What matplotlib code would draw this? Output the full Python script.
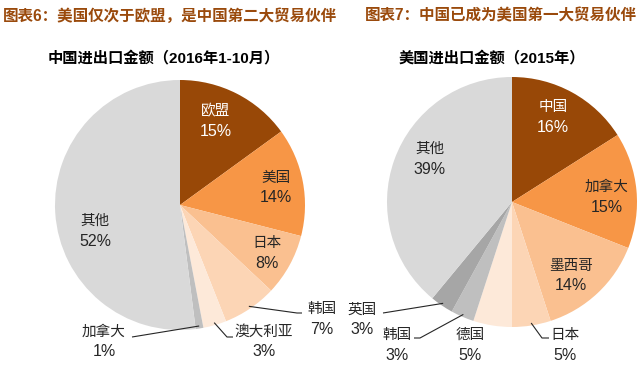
import matplotlib.pyplot as plt
import numpy as np

plt.rcParams['font.family'] = ['Liberation Sans', 'Noto Sans CJK SC', 'DejaVu Sans']

# China imports/exports 2016 Jan-Oct
cn_labels = ["欧盟", "美国", "日本", "韩国", "澳大利亚", "加拿大", "其他"]
cn_values = [15, 14, 8, 7, 3, 1, 52]
cn_colors = ["#984807", "#F79646", "#FAC090", "#FCD5B5", "#FDE9D9", "#BFBFBF", "#D9D9D9"]

# US imports/exports 2015
us_labels = ["中国", "加拿大", "墨西哥", "日本", "德国", "韩国", "英国", "其他"]
us_values = [16, 15, 14, 5, 5, 3, 3, 39]
us_colors = ["#984807", "#F79646", "#FAC090", "#FCD5B5", "#FDE9D9", "#BFBFBF", "#A6A6A6", "#D9D9D9"]

W, H = 640, 365
fig = plt.figure(figsize=(6.4, 3.65), dpi=100)
ax = fig.add_axes([0, 0, 1, 1])

def py(y):
    # pixel y (from top) -> data y
    return H - y

title_color = "#9A4A0C"
fig.text(3 / W, 1 - 16 / H, "图表6：美国仅次于欧盟，是中国第二大贸易伙伴", fontsize=11.2,
         fontweight='bold', color=title_color, va='center', ha='left')
fig.text(365 / W, 1 - 16 / H, "图表7：中国已成为美国第一大贸易伙伴", fontsize=11.2,
         fontweight='bold', color=title_color, va='center', ha='left')
ax.text(164, py(58), "中国进出口金额（2016年1-10月）", fontsize=11, fontweight='bold',
        ha='center', va='center', color='black')
ax.text(492, py(58), "美国进出口金额（2015年）", fontsize=11, fontweight='bold',
        ha='center', va='center', color='black')

def draw_pie(center, radius, values, colors):
    wedges, _ = ax.pie(values, colors=colors, startangle=90, counterclock=False,
                       center=(center[0], py(center[1])), radius=radius,
                       wedgeprops=dict(linewidth=0), frame=True)
    return wedges

cn_wedges = draw_pie((180, 205), 125, cn_values, cn_colors)
us_wedges = draw_pie((512, 202), 125, us_values, us_colors)
ax.set_xlim(0, W)
ax.set_ylim(0, H)
ax.set_aspect('equal')
ax.axis('off')

def label(x, y, name, pct, color='#262626'):
    ax.text(x, py(y), name, fontsize=10.5, ha='center', va='center', color=color)
    ax.text(x, py(y + 20), f"{pct}%", fontsize=11.5, ha='center', va='center', color=color)

def edge_point(wedge, frac=1.0):
    ang = np.deg2rad((wedge.theta1 + wedge.theta2) / 2)
    cx, cy = wedge.center
    r = wedge.r * frac
    return cx + r * np.cos(ang), cy + r * np.sin(ang)

def leader(wedge, pts):
    x0, y0 = edge_point(wedge, 0.98)
    xs = [x0] + [p[0] for p in pts]
    ys = [y0] + [py(p[1]) for p in pts]
    ax.plot(xs, ys, color='#262626', lw=0.8, solid_capstyle='butt')

# left pie labels
cn_pos = {"欧盟": (216, 111), "美国": (276, 178), "日本": (267, 243), "其他": (95, 221),
          "韩国": (322, 309), "澳大利亚": (264, 332), "加拿大": (104, 332)}
for name, val in zip(cn_labels, cn_values):
    x, y = cn_pos[name]
    label(x, y, name, val, color='white' if name == "欧盟" else '#262626')
leader(cn_wedges[3], [(297, 313), (302, 313)])
leader(cn_wedges[4], [(227, 337), (233, 337)])
leader(cn_wedges[5], [(132, 337)])

# right pie labels
us_pos = {"中国": (553, 107), "加拿大": (607, 187), "墨西哥": (571, 266), "其他": (430, 149),
          "日本": (565, 335), "德国": (470, 335), "韩国": (397, 335), "英国": (362, 310)}
for name, val in zip(us_labels, us_values):
    x, y = us_pos[name]
    label(x, y, name, val, color='white' if name == "中国" else '#262626')
leader(us_wedges[3], [(542, 338), (549, 338)])
leader(us_wedges[5], [(420, 338), (414, 338)])
leader(us_wedges[6], [(383, 313)])

fig.savefig("out.png", dpi=100)
